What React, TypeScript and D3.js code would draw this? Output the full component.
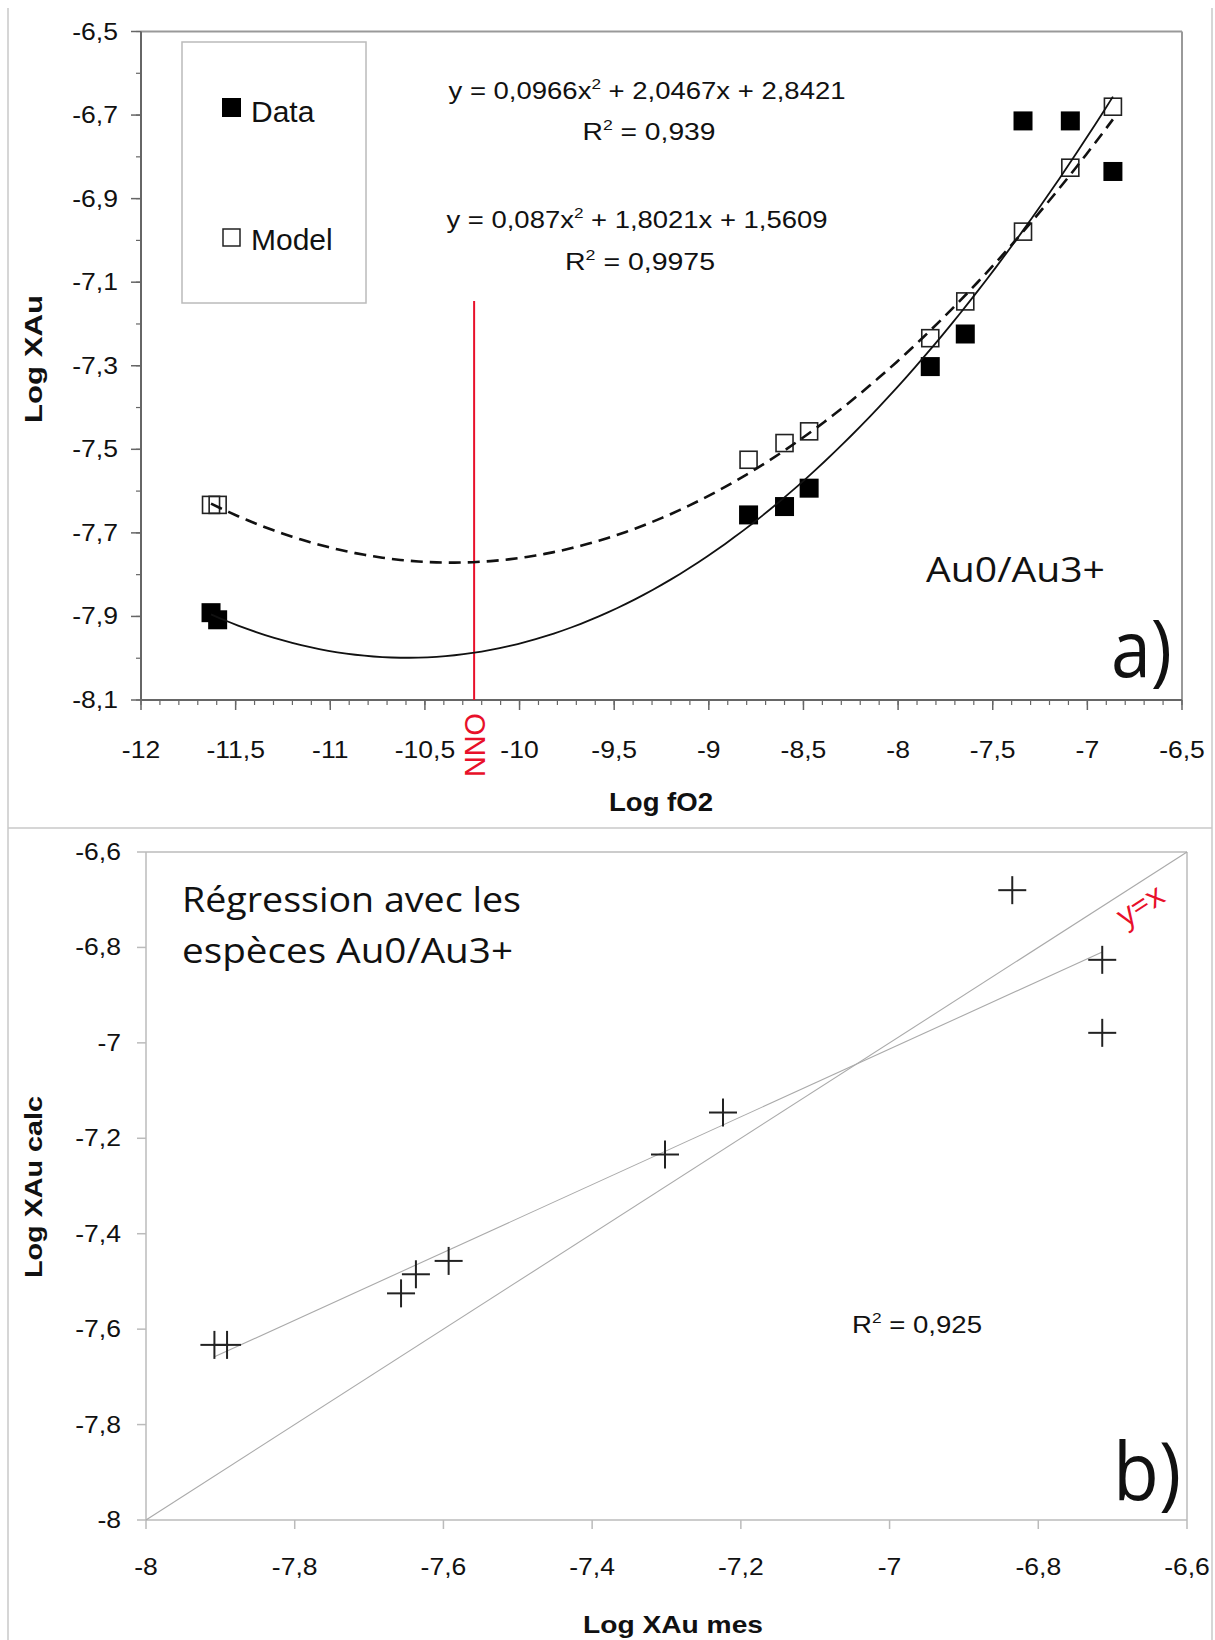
import React from "react";
import * as d3 from "d3";

// ---- data ----
const logFO2 = [-11.63, -11.595, -8.79, -8.6, -8.47, -7.83, -7.645, -7.34, -7.09, -6.865];
const xauData = [-7.891, -7.908, -7.657, -7.637, -7.593, -7.302, -7.224, -6.714, -6.714, -6.835];
const xauModel = [-7.633, -7.633, -7.525, -7.485, -7.457, -7.234, -7.146, -6.979, -6.826, -6.68];
// polynomial trendlines as printed on the chart: a*x^2 + b*x + c
const dataFit = [0.0966, 2.0467, 2.8421];
const modelFit = [0.087, 1.8021, 1.5609];
const nnoFO2 = -10.24;
const nnoTop = -7.145;

const topXTicks = [-12, -11.5, -11, -10.5, -10, -9.5, -9, -8.5, -8, -7.5, -7, -6.5];
const topYTicks = [-6.5, -6.7, -6.9, -7.1, -7.3, -7.5, -7.7, -7.9, -8.1];
const botXTicks = [-8, -7.8, -7.6, -7.4, -7.2, -7, -6.8, -6.6];
const botYTicks = [-6.6, -6.8, -7, -7.2, -7.4, -7.6, -7.8, -8];

const ARIAL = "'Liberation Sans', Arial, sans-serif";
const HUMAN = "'Open Sans', 'Noto Sans', sans-serif";

const fmt = (v: number) => String(+v.toFixed(2)).replace(".", ",");

function TickLabel({ x, y, anchor, children }: { x: number; y: number; anchor: string; children: React.ReactNode }) {
  return (
    <text transform={`translate(${x},${y}) scale(1.13,1)`} fontSize={23.5} textAnchor={anchor} fill="#111">
      {children}
    </text>
  );
}

export default function App() {
  const xT = d3.scaleLinear().domain([-12, -6.5]).range([141, 1182]);
  const yT = d3.scaleLinear().domain([-8.1, -6.5]).range([700, 31.5]);
  const xB = d3.scaleLinear().domain([-8, -6.6]).range([146, 1187]);
  const yB = d3.scaleLinear().domain([-8, -6.6]).range([1520, 852]);

  const xMin = d3.min(logFO2)!;
  const xMax = d3.max(logFO2)!;
  const xs = d3.range(0, 101).map((i) => xMin + ((xMax - xMin) * i) / 100);
  const poly = (c: number[]) => (x: number) => c[0] * x * x + c[1] * x + c[2];
  const line = d3
    .line<[number, number]>()
    .x((d) => xT(d[0]))
    .y((d) => yT(d[1]));
  const dataCurve = line(xs.map((x) => [x, poly(dataFit)(x)]));
  const modelCurve = line(xs.map((x) => [x, poly(modelFit)(x)]));

  const minorX = d3.range(0, 56).map((i) => -12 + i * 0.1);
  const minorY = d3.range(0, 17).map((i) => -8.1 + i * 0.1);

  const mx = d3.mean(xauData)!;
  const my = d3.mean(xauModel)!;
  let sxy = 0,
    sxx = 0;
  xauData.forEach((x, i) => {
    sxy += (x - mx) * (xauModel[i] - my);
    sxx += (x - mx) * (x - mx);
  });
  const slope = sxy / sxx;
  const icpt = my - slope * mx;
  const dMin = d3.min(xauData)!;
  const dMax = d3.max(xauData)!;

  const sq = 19;
  const osq = 17;
  const cr = 14;

  return (
    <svg
      width={1215}
      height={1640}
      style={{ position: "absolute", left: 0, top: 0, background: "#fff" }}
      fontFamily={ARIAL}
    >
      <rect x={0} y={0} width={1215} height={1640} fill="#fff" />
      <line x1={8} y1={8} x2={8} y2={1640} stroke="#c8c8c8" strokeWidth={1.5} />
      <line x1={1212} y1={8} x2={1212} y2={1640} stroke="#c8c8c8" strokeWidth={1.5} />
      <line x1={8} y1={828} x2={1212} y2={828} stroke="#c8c8c8" strokeWidth={1.5} />

      {/* ================= TOP PANEL ================= */}
      <g>
        <line x1={xT(-12)} y1={yT(-6.5)} x2={xT(-6.5)} y2={yT(-6.5)} stroke="#999" strokeWidth={2} />
        <line x1={xT(-6.5)} y1={yT(-6.5)} x2={xT(-6.5)} y2={yT(-8.1)} stroke="#999" strokeWidth={2} />
        {minorX.map((v, i) => (
          <line key={"mx" + i} x1={xT(v)} x2={xT(v)} y1={yT(-8.1)} y2={yT(-8.1) + 5} stroke="#666" strokeWidth={1.2} />
        ))}
        {minorY.map((v, i) => (
          <line key={"my" + i} x1={xT(-12) - 5} x2={xT(-12)} y1={yT(v)} y2={yT(v)} stroke="#666" strokeWidth={1.2} />
        ))}
        {topXTicks.map((v) => (
          <g key={"tx" + v}>
            <line x1={xT(v)} x2={xT(v)} y1={yT(-8.1)} y2={yT(-8.1) + 10} stroke="#666" strokeWidth={1.5} />
            <TickLabel x={xT(v)} y={758} anchor="middle">
              {fmt(v)}
            </TickLabel>
          </g>
        ))}
        {topYTicks.map((v) => (
          <g key={"ty" + v}>
            <line x1={xT(-12) - 10} x2={xT(-12)} y1={yT(v)} y2={yT(v)} stroke="#666" strokeWidth={1.5} />
            <TickLabel x={118} y={yT(v) + 8} anchor="end">
              {fmt(v)}
            </TickLabel>
          </g>
        ))}
        <line x1={xT(-12)} y1={yT(-6.5)} x2={xT(-12)} y2={yT(-8.1)} stroke="#666" strokeWidth={2} />
        <line x1={xT(-12)} y1={yT(-8.1)} x2={xT(-6.5)} y2={yT(-8.1)} stroke="#666" strokeWidth={2} />

        <text
          transform={`translate(42,359) rotate(-90)`}
          fontSize={24}
          fontWeight="bold"
          textAnchor="middle"
          textLength={128}
          lengthAdjust="spacingAndGlyphs"
          fill="#111"
        >
          Log XAu
        </text>
        <text x={661} y={811} fontSize={25} fontWeight="bold" textAnchor="middle" textLength={104} lengthAdjust="spacingAndGlyphs" fill="#111">
          Log fO2
        </text>

        <rect x={182} y={42} width={184} height={261} fill="#fff" stroke="#bbb" strokeWidth={1.5} />
        <rect x={222} y={98} width={19} height={19} fill="#000" />
        <text x={251} y={122} fontSize={30} fill="#111">
          Data
        </text>
        <rect x={223} y={229} width={17} height={17} fill="#fff" stroke="#222" strokeWidth={1.5} />
        <text x={251} y={250} fontSize={30} fill="#111">
          Model
        </text>

        <text x={647} y={99} fontSize={24} textAnchor="middle" textLength={397} lengthAdjust="spacingAndGlyphs" fill="#111">
          y = 0,0966x<tspan fontSize={15} dy={-10}>2</tspan>
          <tspan dy={10}> + 2,0467x + 2,8421</tspan>
        </text>
        <text x={649} y={140} fontSize={24} textAnchor="middle" textLength={133} lengthAdjust="spacingAndGlyphs" fill="#111">
          R<tspan fontSize={15} dy={-10}>2</tspan>
          <tspan dy={10}> = 0,939</tspan>
        </text>
        <text x={637} y={228} fontSize={24} textAnchor="middle" textLength={381} lengthAdjust="spacingAndGlyphs" fill="#111">
          y = 0,087x<tspan fontSize={15} dy={-10}>2</tspan>
          <tspan dy={10}> + 1,8021x + 1,5609</tspan>
        </text>
        <text x={640} y={270} fontSize={24} textAnchor="middle" textLength={150} lengthAdjust="spacingAndGlyphs" fill="#111">
          R<tspan fontSize={15} dy={-10}>2</tspan>
          <tspan dy={10}> = 0,9975</tspan>
        </text>

        <line x1={xT(nnoFO2)} x2={xT(nnoFO2)} y1={yT(nnoTop)} y2={yT(-8.1)} stroke="#e8102a" strokeWidth={2} />
        <text
          transform={`translate(${xT(nnoFO2) + 11},777) rotate(-90)`}
          fontSize={30}
          textLength={64}
          lengthAdjust="spacingAndGlyphs"
          fill="#e8102a"
        >
          NNO
        </text>

        {logFO2.map((x, i) => (
          <rect key={"d" + i} x={xT(x) - sq / 2} y={yT(xauData[i]) - sq / 2} width={sq} height={sq} fill="#000" />
        ))}
        {logFO2.map((x, i) => (
          <rect
            key={"m" + i}
            x={xT(x) - osq / 2}
            y={yT(xauModel[i]) - osq / 2}
            width={osq}
            height={osq}
            fill="none"
            stroke="#222"
            strokeWidth={1.6}
          />
        ))}

        <path d={dataCurve!} fill="none" stroke="#111" strokeWidth={1.8} />
        <path d={modelCurve!} fill="none" stroke="#111" strokeWidth={2.6} strokeDasharray="12,7" />

        <text x={926} y={582} fontFamily={HUMAN} fontSize={35} textLength={179} lengthAdjust="spacingAndGlyphs" fill="#111">
          Au0/Au3+
        </text>
        <text x={1111} y={677} fontFamily={HUMAN} fontSize={78} textLength={61} lengthAdjust="spacingAndGlyphs" fill="#111">
          a)
        </text>
      </g>

      {/* ================= BOTTOM PANEL ================= */}
      <g>
        <line x1={xB(-8)} y1={yB(-6.6)} x2={xB(-6.6)} y2={yB(-6.6)} stroke="#bbb" strokeWidth={1.5} />
        <line x1={xB(-6.6)} y1={yB(-6.6)} x2={xB(-6.6)} y2={yB(-8)} stroke="#bbb" strokeWidth={1.5} />
        <line x1={xB(-8)} y1={yB(-6.6)} x2={xB(-8)} y2={yB(-8)} stroke="#bbb" strokeWidth={1.5} />
        <line x1={xB(-8)} y1={yB(-8)} x2={xB(-6.6)} y2={yB(-8)} stroke="#bbb" strokeWidth={1.5} />
        {botXTicks.map((v) => (
          <g key={"bx" + v}>
            <line x1={xB(v)} x2={xB(v)} y1={yB(-8)} y2={yB(-8) + 9} stroke="#bbb" strokeWidth={1.5} />
            <TickLabel x={xB(v)} y={1575} anchor="middle">
              {fmt(v)}
            </TickLabel>
          </g>
        ))}
        {botYTicks.map((v) => (
          <g key={"by" + v}>
            <line x1={xB(-8) - 9} x2={xB(-8)} y1={yB(v)} y2={yB(v)} stroke="#bbb" strokeWidth={1.5} />
            <TickLabel x={121} y={yB(v) + 8} anchor="end">
              {fmt(v)}
            </TickLabel>
          </g>
        ))}
        <text
          transform={`translate(42,1187) rotate(-90)`}
          fontSize={24}
          fontWeight="bold"
          textAnchor="middle"
          textLength={182}
          lengthAdjust="spacingAndGlyphs"
          fill="#111"
        >
          Log XAu calc
        </text>
        <text x={673} y={1633} fontSize={24} fontWeight="bold" textAnchor="middle" textLength={180} lengthAdjust="spacingAndGlyphs" fill="#111">
          Log XAu mes
        </text>

        <line x1={xB(-8)} y1={yB(-8)} x2={xB(-6.6)} y2={yB(-6.6)} stroke="#aaa" strokeWidth={1.1} />
        <line
          x1={xB(dMin)}
          y1={yB(slope * dMin + icpt)}
          x2={xB(dMax)}
          y2={yB(slope * dMax + icpt)}
          stroke="#aaa"
          strokeWidth={1.1}
        />
        {xauData.map((x, i) => (
          <g key={"c" + i} stroke="#222" strokeWidth={2}>
            <line x1={xB(x) - cr} x2={xB(x) + cr} y1={yB(xauModel[i])} y2={yB(xauModel[i])} />
            <line x1={xB(x)} x2={xB(x)} y1={yB(xauModel[i]) - cr} y2={yB(xauModel[i]) + cr} />
          </g>
        ))}

        <text
          transform={`translate(1146,914) rotate(-33)`}
          fontFamily={HUMAN}
          fontSize={31}
          textAnchor="middle"
          fill="#e8102a"
        >
          y=x
        </text>

        <text x={852} y={1333} fontSize={24} textLength={130} lengthAdjust="spacingAndGlyphs" fill="#111">
          R<tspan fontSize={15} dy={-10}>2</tspan>
          <tspan dy={10}> = 0,925</tspan>
        </text>

        <text x={182} y={912} fontFamily={HUMAN} fontSize={35} textLength={339} lengthAdjust="spacingAndGlyphs" fill="#111">
          Régression avec les
        </text>
        <text x={182} y={963} fontFamily={HUMAN} fontSize={35} textLength={331} lengthAdjust="spacingAndGlyphs" fill="#111">
          espèces Au0/Au3+
        </text>
        <text x={1113} y={1500} fontFamily={HUMAN} fontSize={80} textLength={68} lengthAdjust="spacingAndGlyphs" fill="#111">
          b)
        </text>
      </g>
    </svg>
  );
}
